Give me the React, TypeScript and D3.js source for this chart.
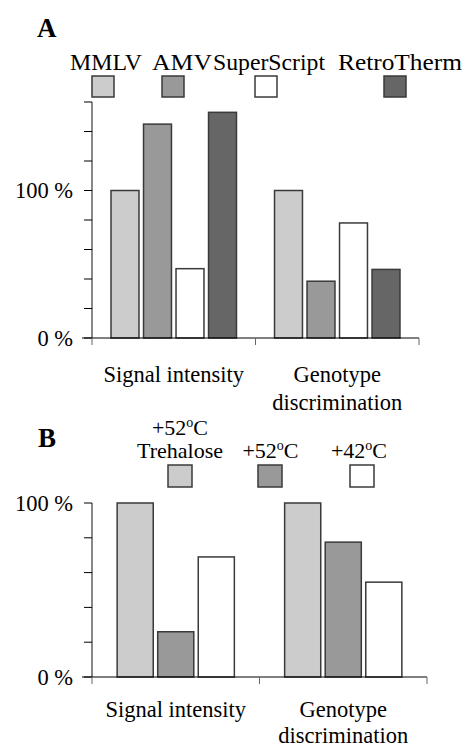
import * as d3 from 'd3';
import * as React from 'react';

// Panel A: reverse transcriptases
const categoriesA = ['Signal intensity', 'Genotype discrimination'];
const seriesA = ['MMLV', 'AMV', 'SuperScript', 'RetroTherm'];
const valuesA: number[][] = [
    [100, 145, 47, 153],
    [100, 38.5, 78, 46.5],
];
const yTicksA = [0, 20, 40, 60, 80, 100, 120, 140, 160];
const yLabelsA = [0, 100];

// Panel B: reaction conditions
const categoriesB = ['Signal intensity', 'Genotype discrimination'];
const seriesB = ['+52oC Trehalose', '+52oC', '+42oC'];
const valuesB: number[][] = [
    [100, 26, 69],
    [100, 77.5, 54.5],
];
const yTicksB = [0, 20, 40, 60, 80, 100];
const yLabelsB = [0, 100];

const colorsA = ['#cccccc', '#999999', '#ffffff', '#666666'];
const colorsB = ['#cccccc', '#999999', '#ffffff'];

const FONT = '"Liberation Serif", "Times New Roman", serif';
const BAR_STROKE = '#3a3a3a';

interface PanelProps {
    categories: string[];
    series: string[];
    values: number[][];
    colors: string[];
    yTicks: number[];
    yLabels: number[];
    yMax: number;
    left: number;
    right: number;
    top: number;
    bottom: number;
    innerPadding: number;
    outerPadding: number;
    labelY: number;
    lineGap: number;
}

const Panel = (p: PanelProps) => {
    const x = d3.scaleBand<string>().domain(p.categories).range([p.left, p.right]);
    const inner = d3.scaleBand<string>()
        .domain(p.series)
        .range([0, x.bandwidth()])
        .paddingInner(p.innerPadding)
        .paddingOuter(p.outerPadding);
    const y = d3.scaleLinear().domain([0, p.yMax]).range([p.bottom, p.top]);
    const edges = [p.left, ...p.categories.map(c => (x(c) as number) + x.bandwidth())];

    return (
        <g>
            {p.categories.map((c, ci) => (
                <g key={c} transform={`translate(${x(c)},0)`}>
                    {p.series.map((s, si) => {
                        const v = p.values[ci][si];
                        return (
                            <rect
                                key={s}
                                x={inner(s)}
                                y={y(v)}
                                width={inner.bandwidth()}
                                height={y(0) - y(v)}
                                fill={p.colors[si]}
                                stroke={BAR_STROKE}
                                strokeWidth={1.5}
                            />
                        );
                    })}
                </g>
            ))}
            {/* y axis */}
            <line x1={p.left} x2={p.left} y1={y(p.yMax)} y2={y(0)} stroke="#888" strokeWidth={2} />
            {p.yTicks.map(t => (
                <line key={t} x1={p.left - 8} x2={p.left} y1={y(t)} y2={y(t)} stroke="#000" strokeWidth={1} />
            ))}
            {p.yLabels.map(t => (
                <text key={t} x={p.left - 19} y={y(t)} dy="0.35em" textAnchor="end"
                    fontFamily={FONT} fontSize={22.5}>{`${t} %`}</text>
            ))}
            {/* x axis */}
            <line x1={p.left - 10} x2={p.right} y1={y(0)} y2={y(0)} stroke="#000" strokeWidth={1} />
            {edges.map((e, i) => (
                <line key={i} x1={e} x2={e} y1={y(0)} y2={y(0) + 7} stroke="#666" strokeWidth={1} />
            ))}
            {p.categories.map(c => {
                const words = c === 'Genotype discrimination' ? ['Genotype', 'discrimination'] : [c];
                const cx = (x(c) as number) + x.bandwidth() / 2;
                return (
                    <text key={c} x={cx} y={p.labelY} textAnchor="middle" fontFamily={FONT} fontSize={22.5}>
                        {words.map((w, i) => (
                            <tspan key={w} x={cx} dy={i === 0 ? 0 : p.lineGap}>{w}</tspan>
                        ))}
                    </text>
                );
            })}
        </g>
    );
};

const Degree = ({ t }: { t: string }) => {
    const [num] = t.split('o');
    return (
        <>
            {num}
            <tspan fontSize={14} dy={-8}>o</tspan>
            <tspan dy={8}>C</tspan>
        </>
    );
};

// legend layout: text start x / text width / swatch left x
const legendTextXA = [70, 152, 213, 338];
const legendTextWA = [72, 60, 112, 124];
const legendSwatchXA = [92, 162, 255, 384];
const legendCenterB = [180, 270.5, 359];
const legendSwatchXB = [168, 258, 350];

export default function App() {
    return (
        <svg width={465} height={749} style={{ position: 'absolute', left: 0, top: 0, background: '#fff' }}>
            <text x={37} y={37} fontFamily={FONT} fontSize={27} fontWeight="bold">A</text>
            {seriesA.map((s, i) => (
                <g key={s}>
                    <text x={legendTextXA[i]} y={70} fontFamily={FONT} fontSize={23.5}
                        textLength={legendTextWA[i]} lengthAdjust="spacingAndGlyphs">{s}</text>
                    <rect x={legendSwatchXA[i]} y={76} width={22} height={21}
                        fill={colorsA[i]} stroke={BAR_STROKE} strokeWidth={1.5} />
                </g>
            ))}
            <Panel
                categories={categoriesA} series={seriesA} values={valuesA} colors={colorsA}
                yTicks={yTicksA} yLabels={yLabelsA} yMax={160}
                left={92} right={419} top={102} bottom={338}
                innerPadding={0.14} outerPadding={0.585} labelY={382} lineGap={28}
            />

            <text x={38} y={447} fontFamily={FONT} fontSize={27} fontWeight="bold">B</text>
            {seriesB.map((s, i) => {
                const parts = s.split(' ');
                return (
                    <g key={s}>
                        <text x={legendCenterB[i]} y={parts.length > 1 ? 435 : 458} textAnchor="middle"
                            fontFamily={FONT} fontSize={22}>
                            <Degree t={parts[0]} />
                        </text>
                        {parts.length > 1 && (
                            <text x={legendCenterB[i]} y={458} textAnchor="middle" fontFamily={FONT} fontSize={22}>
                                {parts[1]}
                            </text>
                        )}
                        <rect x={legendSwatchXB[i]} y={465} width={24} height={22}
                            fill={colorsB[i]} stroke={BAR_STROKE} strokeWidth={1.5} />
                    </g>
                );
            })}
            <Panel
                categories={categoriesB} series={seriesB} values={valuesB} colors={colorsB}
                yTicks={yTicksB} yLabels={yLabelsB} yMax={100}
                left={92} right={427} top={503} bottom={677}
                innerPadding={0.11} outerPadding={0.62} labelY={717} lineGap={26}
            />
        </svg>
    );
}
